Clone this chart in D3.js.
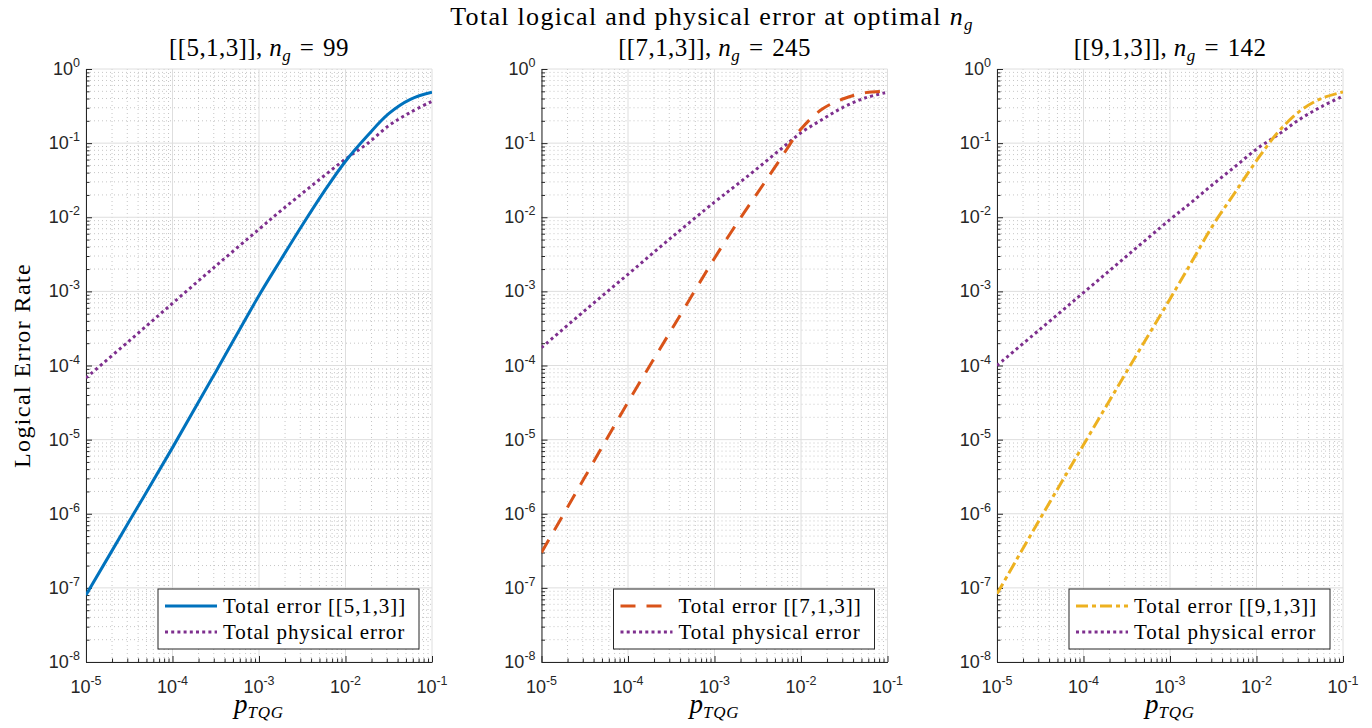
<!DOCTYPE html>
<html>
<head>
<meta charset="utf-8">
<script src="https://cdn.jsdelivr.net/npm/d3@7"></script>
<style>
  body { margin: 0; background: #fff; }
  svg { display: block; }
</style>
</head>
<body>
<svg id="chart" width="1372" height="728"></svg>
<script>
// p_TQG sample points
const pVals = [1e-5, 3.16e-5, 1e-4, 3.16e-4, 1e-3, 1.78e-3, 3.16e-3, 5.62e-3, 1e-2, 1.78e-2, 3.16e-2, 5.62e-2, 1e-1];

// [[5,1,3]]
const total513 = [8.0e-8, 7.9e-7, 7.8e-6, 8.2e-5, 8.8e-4, 2.65e-3, 7.8e-3, 2.2e-2, 5.7e-2, 0.125, 0.25, 0.39, 0.485];
const phys513  = [6.8e-5, 2.15e-4, 6.9e-4, 2.2e-3, 6.9e-3, 1.22e-2, 2.1e-2, 3.6e-2, 0.061, 0.098, 0.172, 0.26, 0.367];
// [[7,1,3]]
const total713 = [3.0e-7, 3.1e-6, 3.2e-5, 3.0e-4, 2.8e-3, 8.0e-3, 2.15e-2, 5.8e-2, 0.155, 0.29, 0.40, 0.48, 0.50];
const phys713  = [1.74e-4, 5.5e-4, 1.7e-3, 5.3e-3, 1.6e-2, 2.7e-2, 4.6e-2, 8.0e-2, 0.138, 0.21, 0.31, 0.41, 0.485];
// [[9,1,3]]
const total913 = [8.3e-8, 8.6e-7, 8.5e-6, 8.3e-5, 7.9e-4, 2.5e-3, 7.9e-3, 2.14e-2, 5.8e-2, 0.141, 0.27, 0.40, 0.49];
const phys913  = [1.0e-4, 3.1e-4, 9.6e-4, 3.0e-3, 9.3e-3, 1.6e-2, 2.8e-2, 4.8e-2, 0.083, 0.13, 0.21, 0.31, 0.43];

const codes = ['[[5,1,3]]', '[[7,1,3]]', '[[9,1,3]]'];
const ngVals = [99, 245, 142];
const totals = [total513, total713, total913];
const physicals = [phys513, phys713, phys913];

const xExps = [-5, -4, -3, -2, -1];
const yExps = [-8, -7, -6, -5, -4, -3, -2, -1, 0];

const colors = ['#0072BD', '#D95319', '#EDB120'];
const dashes = [null, '15,11', '12,4,4,4'];
const purple = '#7E2F8E';

const svg = d3.select('#chart');
const serif = '"Liberation Serif", "Times New Roman", serif';
const sans = '"Liberation Sans", Arial, Helvetica, sans-serif';

const plotW = 346;
const plotTop = 69, plotBottom = 662;
const lefts = [86, 541.5, 997];

const y = d3.scaleLog().domain([1e-8, 1]).range([plotBottom, plotTop]);

// minor tick values for a range of decades
function minors(lo, hi) {
  const out = [];
  for (let e = lo; e < hi; e++) {
    for (let m = 2; m <= 9; m++) out.push(m * Math.pow(10, e));
  }
  return out;
}
const xMinor = minors(-5, -1);
const yMinor = minors(-8, 0);
const xMajor = xExps.map(e => Math.pow(10, e));
const yMajor = yExps.map(e => Math.pow(10, e));

svg.append('defs').selectAll('clipPath')
  .data(lefts).enter().append('clipPath')
  .attr('id', (d, i) => 'clip' + i)
  .append('rect')
  .attr('x', d => d).attr('y', plotTop - 2)
  .attr('width', plotW).attr('height', plotBottom - plotTop + 2);

lefts.forEach((left, i) => {
  const x = d3.scaleLog().domain([1e-5, 1e-1]).range([left, left + plotW]);
  const g = svg.append('g');

  // minor grid
  g.selectAll('.mgx').data(xMinor).enter().append('line')
    .attr('x1', d => x(d)).attr('x2', d => x(d))
    .attr('y1', plotTop).attr('y2', plotBottom)
    .attr('stroke', '#c6c6c6').attr('stroke-width', 1)
    .attr('stroke-dasharray', '1,3');
  g.selectAll('.mgy').data(yMinor).enter().append('line')
    .attr('x1', left).attr('x2', left + plotW)
    .attr('y1', d => y(d)).attr('y2', d => y(d))
    .attr('stroke', '#c6c6c6').attr('stroke-width', 1)
    .attr('stroke-dasharray', '1,3');

  // major grid
  g.selectAll('.gx').data(xMajor).enter().append('line')
    .attr('x1', d => x(d)).attr('x2', d => x(d))
    .attr('y1', plotTop).attr('y2', plotBottom)
    .attr('stroke', '#dedede').attr('stroke-width', 1);
  g.selectAll('.gy').data(yMajor).enter().append('line')
    .attr('x1', left).attr('x2', left + plotW)
    .attr('y1', d => y(d)).attr('y2', d => y(d))
    .attr('stroke', '#dedede').attr('stroke-width', 1);

  // axes (ticks pointing inward)
  g.append('g').attr('transform', 'translate(' + left + ',0)')
    .call(d3.axisLeft(y).tickValues(yMajor).tickSizeInner(-6).tickSizeOuter(0).tickFormat(''));
  g.append('g').attr('transform', 'translate(' + left + ',0)')
    .call(d3.axisLeft(y).tickValues(yMinor).tickSizeInner(-3.5).tickSizeOuter(0).tickFormat(''))
    .select('.domain').remove();
  g.append('g').attr('transform', 'translate(0,' + plotBottom + ')')
    .call(d3.axisBottom(x).tickValues(xMajor).tickSizeInner(-6).tickSizeOuter(0).tickFormat(''));
  g.append('g').attr('transform', 'translate(0,' + plotBottom + ')')
    .call(d3.axisBottom(x).tickValues(xMinor).tickSizeInner(-3.5).tickSizeOuter(0).tickFormat(''))
    .select('.domain').remove();
  g.selectAll('.domain, .tick line').attr('stroke', '#262626');

  // tick labels
  g.selectAll('.ylab').data(yExps).enter().append('text')
    .attr('x', left - 6).attr('y', d => y(Math.pow(10, d)) + 6)
    .attr('text-anchor', 'end')
    .style('font-family', sans).style('font-size', '18px').attr('fill', '#262626')
    .each(function(d) {
      const t = d3.select(this);
      t.append('tspan').text('10');
      t.append('tspan').attr('dy', -8).style('font-size', '12.5px').text(d);
    });
  g.selectAll('.xlab').data(xExps).enter().append('text')
    .attr('x', d => x(Math.pow(10, d))).attr('y', plotBottom + 31)
    .attr('text-anchor', 'middle')
    .style('font-family', sans).style('font-size', '18px').attr('fill', '#262626')
    .each(function(d) {
      const t = d3.select(this);
      t.append('tspan').text('10');
      t.append('tspan').attr('dy', -8).style('font-size', '12.5px').text(d);
    });

  // curves
  const line = d3.line()
    .x((d, k) => x(pVals[k]))
    .y(d => y(d))
    .curve(d3.curveCatmullRom.alpha(0.5));
  const lines = g.append('g').attr('clip-path', 'url(#clip' + i + ')');
  lines.append('path').datum(physicals[i])
    .attr('d', line).attr('fill', 'none')
    .attr('stroke', purple).attr('stroke-width', 3)
    .attr('stroke-dasharray', '3,3.2');
  const tl = lines.append('path').datum(totals[i])
    .attr('d', line).attr('fill', 'none')
    .attr('stroke', colors[i]).attr('stroke-width', 3);
  if (dashes[i]) tl.attr('stroke-dasharray', dashes[i]);

  // subplot title
  const cx = left + plotW / 2;
  const st = svg.append('text').attr('x', cx).attr('y', 56)
    .attr('text-anchor', 'middle')
    .style('font-family', serif).style('font-size', '25px').style('letter-spacing', '0.4px');
  st.append('tspan').text(codes[i] + ', ');
  st.append('tspan').style('font-style', 'italic').text('n');
  st.append('tspan').style('font-style', 'italic').style('font-size', '17px').attr('dy', 5).text('g');
  st.append('tspan').attr('dy', -5).text('\u2004=\u2004' + ngVals[i]);

  // x label
  const xl = svg.append('text').attr('x', cx).attr('y', 713)
    .attr('text-anchor', 'middle')
    .style('font-family', serif).style('font-style', 'italic').style('font-size', '27px');
  xl.append('tspan').text('p');
  xl.append('tspan').style('font-size', '17px').style('letter-spacing', '0.8px').attr('dy', 5).text('TQG');

  // legend
  const lx = left + plotW - 274, ly = 589;
  const lg = svg.append('g');
  lg.append('rect').attr('x', lx).attr('y', ly).attr('width', 261).attr('height', 60)
    .attr('fill', '#fff').attr('stroke', '#262626').attr('stroke-width', 1);
  const s1 = lg.append('line').attr('x1', lx + 7).attr('x2', lx + 59)
    .attr('y1', ly + 17).attr('y2', ly + 17)
    .attr('stroke', colors[i]).attr('stroke-width', 3);
  if (dashes[i]) s1.attr('stroke-dasharray', dashes[i]);
  lg.append('line').attr('x1', lx + 7).attr('x2', lx + 59)
    .attr('y1', ly + 43).attr('y2', ly + 43)
    .attr('stroke', purple).attr('stroke-width', 3).attr('stroke-dasharray', '3,3.2');
  lg.append('text').attr('x', lx + 65).attr('y', ly + 24)
    .style('font-family', serif).style('font-size', '21px').style('letter-spacing', '0.9px')
    .text('Total error ' + codes[i]);
  lg.append('text').attr('x', lx + 65).attr('y', ly + 50)
    .style('font-family', serif).style('font-size', '21px').style('letter-spacing', '0.9px')
    .text('Total physical error');
});

// overall title
const tt = svg.append('text').attr('x', 712).attr('y', 25)
  .attr('text-anchor', 'middle')
  .style('font-family', serif).style('font-size', '26px').style('letter-spacing', '1.3px');
tt.append('tspan').text('Total logical and physical error at optimal ');
tt.append('tspan').style('font-style', 'italic').text('n');
tt.append('tspan').style('font-style', 'italic').style('font-size', '17px').attr('dy', 5).text('g');

// y label
svg.append('text')
  .attr('transform', 'translate(30,' + ((plotTop + plotBottom) / 2) + ') rotate(-90)')
  .attr('text-anchor', 'middle')
  .style('font-family', serif).style('font-size', '24px').style('letter-spacing', '1.4px')
  .text('Logical Error Rate');
</script>
</body>
</html>
